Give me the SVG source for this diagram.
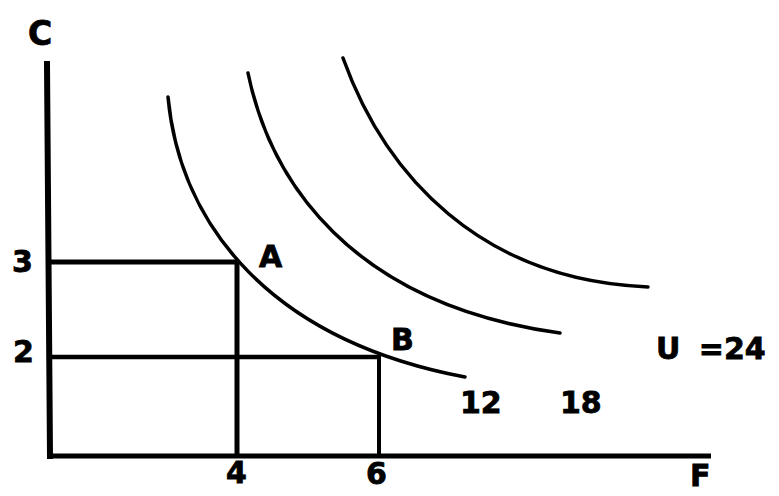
<svg xmlns="http://www.w3.org/2000/svg" width="779" height="496" viewBox="0 0 779 496">
  <style>
    .axis { stroke: #000; stroke-width: 6; fill: none; stroke-linecap: square; }
    .guide { stroke: #000; stroke-width: 5; fill: none; }
    .curve { stroke: #000; stroke-width: 3.5; fill: none; stroke-linecap: round; }
    .lbl { font-family: "DejaVu Sans", "Verdana", sans-serif; font-weight: bold; font-size: 30px; fill: #000; stroke: #000; stroke-width: 0.8; }
  </style>
  <rect width="779" height="496" fill="#fff"/>
  <g id="axes">
    <line class="axis" x1="47" y1="64" x2="50" y2="456"/>
    <line class="axis" x1="50" y1="456" x2="711" y2="456" style="stroke-width:5;stroke-linecap:butt"/>
    <text class="lbl" x="28" y="45" style="font-size:33px">C</text>
    <text class="lbl" x="690" y="486">F</text>
  </g>
  <g id="guides">
    <line class="guide" x1="49" y1="262" x2="238" y2="262"/>
    <line class="guide" x1="237" y1="262" x2="237" y2="457"/>
    <line class="guide" x1="49" y1="357" x2="381" y2="357" style="stroke-width:4.5"/>
    <line class="guide" x1="379" y1="355" x2="379" y2="457" style="stroke-width:4"/>
    <text class="lbl" x="12" y="272">3</text>
    <text class="lbl" x="13" y="362">2</text>
    <text class="lbl" x="226" y="483">4</text>
    <text class="lbl" x="366" y="484">6</text>
  </g>
  <g id="curve-12">
    <path class="curve" d="M168,97 C180,225 270,340 465,377"/>
    <text class="lbl" x="460" y="413">12</text>
  </g>
  <g id="curve-18">
    <path class="curve" d="M248,73 C270,180 350,304 560,333"/>
    <text class="lbl" x="560" y="413">18</text>
  </g>
  <g id="curve-24">
    <path class="curve" d="M343,58 C385,175 480,280 648,287"/>
    <text class="lbl" x="656" y="359" word-spacing="8">U =24</text>
  </g>
  <g id="point-A">
    <text class="lbl" x="259" y="267">A</text>
  </g>
  <g id="point-B">
    <text class="lbl" x="391" y="350">B</text>
  </g>
</svg>
